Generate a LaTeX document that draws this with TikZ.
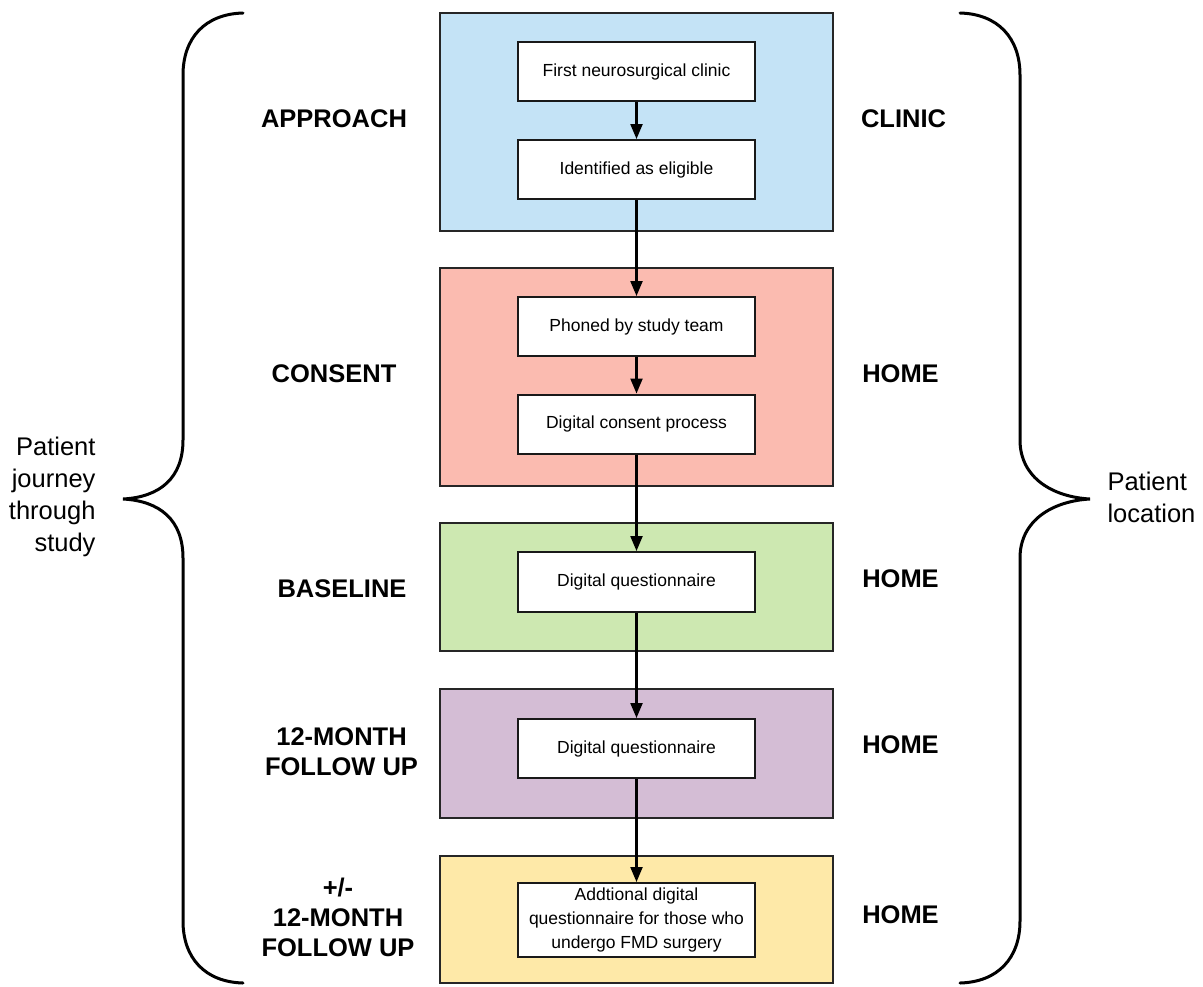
\documentclass[tikz,border=0pt]{standalone}
\usepackage{fontspec}
\setmainfont{Liberation Sans}
\usetikzlibrary{arrows.meta}
\definecolor{cblue}{RGB}{196,227,246}
\definecolor{cpink}{RGB}{251,187,176}
\definecolor{cgreen}{RGB}{205,232,177}
\definecolor{cpurple}{RGB}{212,189,213}
\definecolor{cyellow}{RGB}{254,233,168}
\tikzset{
  outerbox/.style={draw=black!85, line width=2pt, minimum width=393pt, inner sep=0pt},
  innerbox/.style={draw=black!90, fill=white, line width=2pt, minimum width=237pt, minimum height=59pt,
    align=center, font=\fontsize{17.5}{21}\selectfont, inner sep=0pt},
  stagelabel/.style={align=center, font=\fontsize{25.5}{30}\selectfont\bfseries},
  loclabel/.style={font=\fontsize{25.5}{30}\selectfont\bfseries},
  sidetext/.style={font=\fontsize{25.5}{32}\selectfont},
  flow/.style={line width=2.2pt, -{Triangle[length=15pt,width=12pt]}},
  bracestyle/.style={line width=3pt, line cap=round}
}
\begin{document}
\begin{tikzpicture}[x=1pt,y=-1pt]
\useasboundingbox (0,0) rectangle (1203,986);
% outer boxes
\node[outerbox, fill=cblue, minimum height=218pt] (B1) at (636.5,122) {};
\node[outerbox, fill=cpink, minimum height=218pt] (B2) at (636.5,377) {};
\node[outerbox, fill=cgreen, minimum height=128pt] (B3) at (636.5,587) {};
\node[outerbox, fill=cpurple, minimum height=129pt] (B4) at (636.5,753) {};
\node[outerbox, fill=cyellow, minimum height=127pt] (B5) at (636.5,919.5) {};
% inner boxes
\node[innerbox] (a) at (636.5,71.5) {First neurosurgical clinic};
\node[innerbox] (b) at (636.5,169.5) {Identified as eligible};
\node[innerbox] (c) at (636.5,326.5) {Phoned by study team};
\node[innerbox] (d) at (636.5,424) {Digital consent process};
\node[innerbox, minimum height=60pt] (e) at (636.5,582) {Digital questionnaire};
\node[innerbox] (f) at (636.5,748.5) {Digital questionnaire};
\node[innerbox, minimum height=74pt, font=\fontsize{17.5}{24}\selectfont] (g) at (636.5,920) {Addtional digital\\questionnaire for those who\\undergo FMD surgery};
% connectors
\draw[flow] (a) -- (b);
\draw[flow] (b) -- (c);
\draw[flow] (c) -- (d);
\draw[flow] (d) -- (e);
\draw[flow] (e) -- (f);
\draw[flow] (f) -- (g);
% stage labels
\node[stagelabel] (l1) at (334,119) {APPROACH};
\node[stagelabel] (l2) at (334,374) {CONSENT};
\node[stagelabel] (l3) at (342,589) {BASELINE};
\node[stagelabel] (l4) at (341.5,752) {12-MONTH\\FOLLOW UP};
\node[stagelabel] (l5) at (338,917) {+/-\\12-MONTH\\FOLLOW UP};
% location labels
\node[loclabel] (r1) at (903.5,118.5) {CLINIC};
\node[loclabel] (r2) at (900.5,374) {HOME};
\node[loclabel] (r3) at (900.5,579) {HOME};
\node[loclabel] (r4) at (900.5,745) {HOME};
\node[loclabel] (r5) at (900.5,915) {HOME};
% braces
\draw[bracestyle] (243,13) .. controls (205,14) and (183,38) .. (183,75)
  -- (183,440) .. controls (183,478) and (160,497) .. (123,499)
  .. controls (160,501) and (183,520) .. (183,558)
  -- (183,921) .. controls (183,958) and (205,982) .. (243,983);
\draw[bracestyle] (960,13) .. controls (998,14) and (1020,38) .. (1020,75)
  -- (1020,440) .. controls (1020,478) and (1053,497) .. (1090,499)
  .. controls (1053,501) and (1020,520) .. (1020,558)
  -- (1020,921) .. controls (1020,958) and (998,982) .. (960,983);
% side texts
\node[sidetext, align=right, anchor=east] (lt) at (99,497) {Patient\\journey\\through\\study};
\node[sidetext, align=left, anchor=west] (rt) at (1104,497) {Patient\\location};
\end{tikzpicture}
\end{document}
